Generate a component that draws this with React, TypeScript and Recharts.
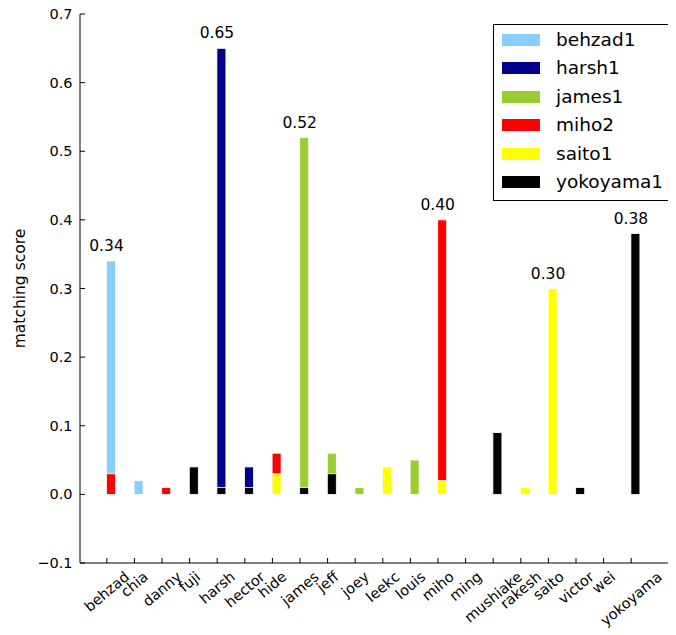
import React from 'react';
import { BarChart, Bar, XAxis, YAxis, Legend, LabelList } from 'recharts';

const categories = ['behzad', 'chia', 'danny', 'fuji', 'harsh', 'hector', 'hide', 'james', 'jeff', 'joey', 'leekc', 'louis', 'miho', 'ming', 'mushiake', 'rakesh', 'saito', 'victor', 'wei', 'yokoyama'];

//                 behz  chia  dann  fuji  hars  hect  hide  jame  jeff  joey  leek  loui  miho  ming  mush  rake  sait  vict  wei   yoko
const behzad1 = [0.34, 0.02, null, null, null, null, null, null, null, null, null, null, null, null, null, null, null, null, null, null];
const harsh1 = [null, null, null, null, 0.65, 0.04, null, null, null, null, null, null, null, null, null, null, null, null, null, null];
const james1 = [null, null, null, null, null, null, null, 0.52, 0.06, 0.01, null, 0.05, null, null, null, null, null, null, null, null];
const miho2 = [0.03, null, 0.01, null, null, null, 0.06, null, null, null, null, null, 0.40, null, null, null, null, null, null, null];
const saito1 = [null, null, null, null, null, null, 0.03, null, null, null, 0.04, null, 0.02, null, null, 0.01, 0.30, null, null, null];
const yokoyama1 = [null, null, null, 0.04, 0.01, 0.01, null, 0.01, 0.03, null, null, null, null, null, 0.09, null, null, 0.01, null, 0.38];

const seriesNames = ['behzad1', 'harsh1', 'james1', 'miho2', 'saito1', 'yokoyama1'];
const seriesValues = [behzad1, harsh1, james1, miho2, saito1, yokoyama1];
const seriesColors = ['#87CEFA', '#00008B', '#9ACD32', '#FF0000', '#FFFF00', '#000000'];
const seriesOwners = ['behzad', 'harsh', 'james', 'miho', 'saito', 'yokoyama'];

const yTicks = [-0.1, 0, 0.1, 0.2, 0.3, 0.4, 0.5, 0.6, 0.7];
const yLabel = 'matching score';

const data = categories.map((name, i) => {
  const row: Record<string, any> = { name };
  seriesNames.forEach((s, k) => {
    row[s] = seriesValues[k][i];
  });
  return row;
});

const FONT = '"DejaVu Sans", "Bitstream Vera Sans", sans-serif';
const TICK_FS = 14.5;
const ANN_FS = 15.5;
const LEG_FS = 18.5;
const ANGLE = 40;

const CHAR_W: Record<string, number> = {
  a: 0.613, b: 0.635, c: 0.55, d: 0.635, e: 0.615, f: 0.352, g: 0.635, h: 0.634, i: 0.278, j: 0.278,
  k: 0.579, l: 0.278, m: 0.974, n: 0.634, o: 0.612, p: 0.635, q: 0.635, r: 0.411, s: 0.521, t: 0.392,
  u: 0.634, v: 0.592, w: 0.818, x: 0.592, y: 0.592, z: 0.525,
};
const textWidth = (s: string, fs: number) =>
  s.split('').reduce((a, c) => a + (CHAR_W[c] ?? 0.6), 0) * fs;

const fmtY = (v: number) => (v < -1e-9 ? '\u2212' : '') + Math.abs(v).toFixed(1);

const BottomTick = (props: any) => {
  const { x, y, payload } = props;
  const label = String(payload.value);
  const w = textWidth(label, TICK_FS);
  const h = 1.164 * TICK_FS;
  const rad = (ANGLE * Math.PI) / 180;
  const H = w * Math.sin(rad) + h * Math.cos(rad);
  const cy = y + 5 + H / 2;
  return (
    <g>
      <line x1={x} y1={y} x2={x} y2={y - 5} stroke="#000" strokeWidth={1} />
      <text
        x={x}
        y={cy}
        textAnchor="middle"
        dominantBaseline="central"
        transform={`rotate(${-ANGLE} ${x} ${cy})`}
        fontFamily={FONT}
        fontSize={TICK_FS}
        fill="#000"
      >
        {label}
      </text>
    </g>
  );
};

const TopTick = (props: any) => {
  const { x, y } = props;
  return <line x1={x} y1={y} x2={x} y2={y + 5} stroke="#000" strokeWidth={1} />;
};

const LeftTick = (props: any) => {
  const { x, y, payload } = props;
  return (
    <g>
      <line x1={x} y1={y} x2={x + 5} y2={y} stroke="#000" strokeWidth={1} />
      <text
        x={x - 7.5}
        y={y}
        textAnchor="end"
        dominantBaseline="central"
        fontFamily={FONT}
        fontSize={TICK_FS}
        fill="#000"
      >
        {fmtY(Number(payload.value))}
      </text>
    </g>
  );
};

const YLabel = (props: any) => {
  const vb = props.viewBox || { x: 0, y: 6, width: 72, height: 549 };
  const cx = vb.x + 12;
  const cy = vb.y + vb.height / 2;
  return (
    <text
      x={cx}
      y={cy}
      textAnchor="middle"
      dominantBaseline="central"
      transform={`rotate(-90 ${cx} ${cy})`}
      fontFamily={FONT}
      fontSize={15.5}
      fill="#000"
    >
      {yLabel}
    </text>
  );
};

const EdgeBar = (props: any) => {
  const { x, y, width, height, fill, value } = props;
  if (value == null || !height || height <= 0) return null;
  return (
    <rect
      x={x + width / 2}
      y={y}
      width={width}
      height={height}
      fill={fill}
      stroke="#ffffff"
      strokeWidth={0.8}
    />
  );
};

// the annotated bar of each series is the one in its owner's category
const ownerValue = (k: number) => seriesValues[k][categories.indexOf(seriesOwners[k])];

const makeLabel = (k: number) => (props: any) => {
  const { x, y, width, value } = props;
  const target = ownerValue(k);
  if (value == null || target == null || Math.abs(Number(value) - target) > 1e-9) return null;
  return (
    <text
      x={x + width / 2}
      y={y - 10}
      textAnchor="middle"
      fontFamily={FONT}
      fontSize={ANN_FS}
      fill="#000"
    >
      {Number(value).toFixed(2)}
    </text>
  );
};

const LegendBox = () => (
  <div
    style={{
      width: 181,
      height: 177,
      boxSizing: 'border-box',
      border: '1px solid #000',
      background: '#fff',
      fontFamily: FONT,
      fontSize: LEG_FS,
      position: 'relative',
      color: '#000',
    }}
  >
    {seriesNames.map((s, k) => (
      <div
        key={s}
        style={{
          position: 'absolute',
          left: 8,
          top: 15 + k * 28.4 - 14,
          height: 28,
          display: 'flex',
          alignItems: 'center',
          whiteSpace: 'nowrap',
        }}
      >
        <span style={{ display: 'inline-block', width: 38, height: 12, background: seriesColors[k] }} />
        <span style={{ marginLeft: 16, lineHeight: '28px' }}>{s}</span>
      </div>
    ))}
  </div>
);

export default function App() {
  return (
    <div style={{ width: 668, height: 627, overflow: 'hidden', position: 'relative' }}>
      <BarChart
        width={700}
        height={627}
        data={data}
        margin={{ top: 6, right: 24, bottom: 0, left: 0 }}
        barSize={9}
        barGap={-9}
      >
        <XAxis
          dataKey="name"
          type="category"
          height={72}
          padding={{ left: 13, right: 39 }}
          interval={0}
          tickSize={0}
          tickMargin={0}
          tickLine={false}
          axisLine={{ stroke: '#000', strokeWidth: 1 }}
          tick={<BottomTick />}
        />
        <XAxis
          xAxisId="top"
          dataKey="name"
          type="category"
          orientation="top"
          height={0}
          padding={{ left: 13, right: 39 }}
          interval={0}
          tickSize={0}
          tickMargin={0}
          tickLine={false}
          axisLine={{ stroke: '#000', strokeWidth: 1 }}
          tick={<TopTick />}
        />
        <YAxis
          type="number"
          domain={[-0.1, 0.7]}
          ticks={yTicks}
          width={72}
          interval={0}
          tickSize={0}
          tickMargin={0}
          tickLine={false}
          axisLine={{ stroke: '#000', strokeWidth: 1 }}
          tick={<LeftTick />}
          label={YLabel}
        />
        <Legend
          layout="vertical"
          align="center"
          verticalAlign="middle"
          wrapperStyle={{ top: 16, left: 485, width: 181, height: 177 }}
          content={<LegendBox />}
        />
        {seriesNames.map((s, k) => (
          <Bar
            key={s}
            dataKey={s}
            name={s}
            fill={seriesColors[k]}
            isAnimationActive={false}
            shape={<EdgeBar />}
          >
            <LabelList dataKey={s} content={makeLabel(k)} />
          </Bar>
        ))}
      </BarChart>
    </div>
  );
}
